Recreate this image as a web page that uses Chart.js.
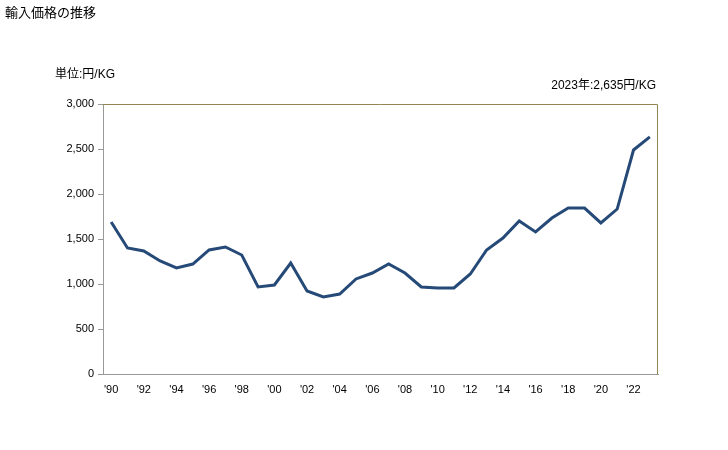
<!DOCTYPE html>
<html><head><meta charset="utf-8">
<script src="https://cdn.jsdelivr.net/npm/chart.js@4/dist/chart.umd.min.js"></script>
<style>html,body{margin:0;padding:0;background:#fff}#wrap{width:728px;height:450px;position:relative}</style>
</head><body><div id="wrap"><canvas id="c" width="728" height="450"></canvas></div>
<script>
const years = ["'90","'91","'92","'93","'94","'95","'96","'97","'98","'99","'00","'01","'02","'03","'04","'05","'06","'07","'08","'09","'10","'11","'12","'13","'14","'15","'16","'17","'18","'19","'20","'21","'22","'23"];
const prices = [1689,1400,1367,1256,1178,1222,1378,1411,1322,967,989,1233,922,856,889,1056,1122,1222,1122,967,956,956,1111,1378,1511,1700,1578,1733,1844,1844,1678,1833,2489,2635];
const yTicks = [0,500,1000,1500,2000,2500,3000];
const titleText = '輸入価格の推移';
const unitText = '単位:円/KG';
const noteText = '2023年:2,635円/KG';
const FONT = '"Liberation Sans","Noto Sans CJK JP",sans-serif';

const textPlugin = {
  id:'texts',
  afterDraw(chart){
    const ctx = chart.ctx, a = chart.chartArea;
    ctx.save();
    ctx.fillStyle = '#000';
    ctx.textBaseline = 'middle';
    ctx.font = '13px ' + FONT;
    ctx.textAlign = 'left';
    ctx.fillText(titleText, 5, 13);
    ctx.font = '12px ' + FONT;
    ctx.fillText(unitText, 55, 75);
    ctx.textAlign = 'right';
    ctx.fillText(noteText, a.right - 2, 86);
    ctx.strokeStyle = '#948653';
    ctx.lineWidth = 1;
    ctx.beginPath();
    ctx.moveTo(a.left, a.top + 0.5);
    ctx.lineTo(a.right - 0.5, a.top + 0.5);
    ctx.lineTo(a.right - 0.5, a.bottom);
    ctx.stroke();
    ctx.restore();
  }
};

new Chart(document.getElementById('c'), {
  type:'line',
  data:{labels:years, datasets:[{data:prices, borderColor:'#264a78', borderWidth:3, pointRadius:0, tension:0, fill:false}]},
  options:{
    responsive:false, animation:false,
    layout:{padding:{left:0,right:70,top:104,bottom:46}},
    plugins:{legend:{display:false}, tooltip:{enabled:false}},
    scales:{
      x:{
        offset:true,
        grid:{display:false},
        border:{display:true,color:'#999'},
        ticks:{autoSkip:false,maxRotation:0,color:'#000',font:{size:11,family:FONT},padding:1,
          callback:function(v,i){return i%2===0?this.getLabelForValue(v):'';}},
        afterFit(s){s.height=30;}
      },
      y:{
        min:0,max:3000,
        afterBuildTicks(s){s.ticks = yTicks.map(v=>({value:v}));},
        grid:{drawOnChartArea:false,drawTicks:true,tickLength:5,color:'#999'},
        border:{display:true,color:'#999'},
        ticks:{color:'#000',font:{size:11,family:FONT},padding:4,
          callback:v=>v.toLocaleString('en-US')},
        afterFit(s){s.width=103;}
      }
    }
  },
  plugins:[textPlugin]
});
</script></body></html>
